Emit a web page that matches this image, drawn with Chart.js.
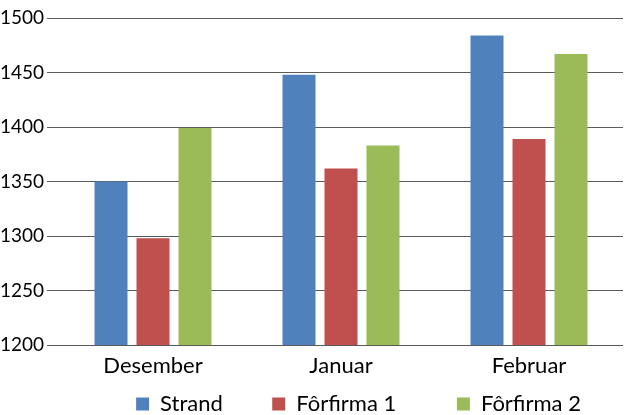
<!DOCTYPE html>
<html>
<head>
<meta charset="utf-8">
<script src="https://cdn.jsdelivr.net/npm/chart.js@4"></script>
<style>
html,body{margin:0;padding:0;background:#fff;overflow:hidden;}
#wrap{width:630px;height:415px;position:relative;}
</style>
</head>
<body>
<div id="wrap"><canvas id="c" width="630" height="415"></canvas></div>
<script>
const categories = ["Desember", "Januar", "Februar"];
const seriesNames = ["Strand", "Fôrfirma 1", "Fôrfirma 2"];
const strand = [1350, 1448, 1484];
const forfirma1 = [1298, 1362, 1389];
const forfirma2 = [1399, 1383, 1467];
const yTicks = [1200, 1250, 1300, 1350, 1400, 1450, 1500];
const colors = ["#4f81bd", "#c0504d", "#9bbb59"];

const font = "Lato, 'Open Sans', sans-serif";
const legendGap = [41, 51, 0];   // extra horizontal space after each legend item
const legendShift = 47;          // move legend row right

const legendSpacing = {
  id: 'legendSpacing',
  afterLayout(chart) {
    const lg = chart.legend;
    if (lg) { lg.left += legendShift; lg.right += legendShift; }
  }
};

new Chart(document.getElementById('c'), {
  type: 'bar',
  data: {
    labels: categories,
    datasets: [strand, forfirma1, forfirma2].map((d, i) => ({
      label: seriesNames[i],
      data: d,
      backgroundColor: colors[i],
      borderWidth: 0,
      categoryPercentage: 0.67,
      barPercentage: 0.786
    }))
  },
  plugins: [legendSpacing],
  options: {
    responsive: false,
    animation: false,
    layout: { padding: { top: 18, right: 7, left: 0, bottom: -10 } },
    plugins: {
      title: { display: false },
      tooltip: { enabled: false },
      legend: {
        position: 'bottom',
        labels: {
          boxWidth: 13, boxHeight: 13, padding: 10,
          color: '#000',
          font: { family: font, size: 22 },
          generateLabels(chart) {
            const items = Chart.defaults.plugins.legend.labels.generateLabels(chart);
            const c = document.createElement('canvas').getContext('2d');
            c.font = '22px ' + font;
            const sw = c.measureText(' ').width || 5;
            items.forEach((it, i) => {
              const n = Math.round(legendGap[i] / sw);
              it.text = it.text + ' '.repeat(n);
            });
            return items;
          }
        }
      }
    },
    scales: {
      x: {
        grid: { display: false },
        border: { display: false },
        ticks: { color: '#000', font: { family: font, size: 22 }, padding: 0 },
        afterFit: (ax) => { ax.height = 38; }
      },
      y: {
        min: 1200, max: 1500,
        afterBuildTicks: (ax) => { ax.ticks = yTicks.map(v => ({ value: v })); },
        afterFit: (ax) => { ax.width = 59; },
        grid: { color: '#5a5a5a', lineWidth: 1, tickLength: 12, drawTicks: true },
        border: { display: false },
        ticks: { color: '#000', font: { family: font, size: 19 }, padding: 3,
                 callback: (v) => String(v) }
      }
    }
  }
});
</script>
</body>
</html>
